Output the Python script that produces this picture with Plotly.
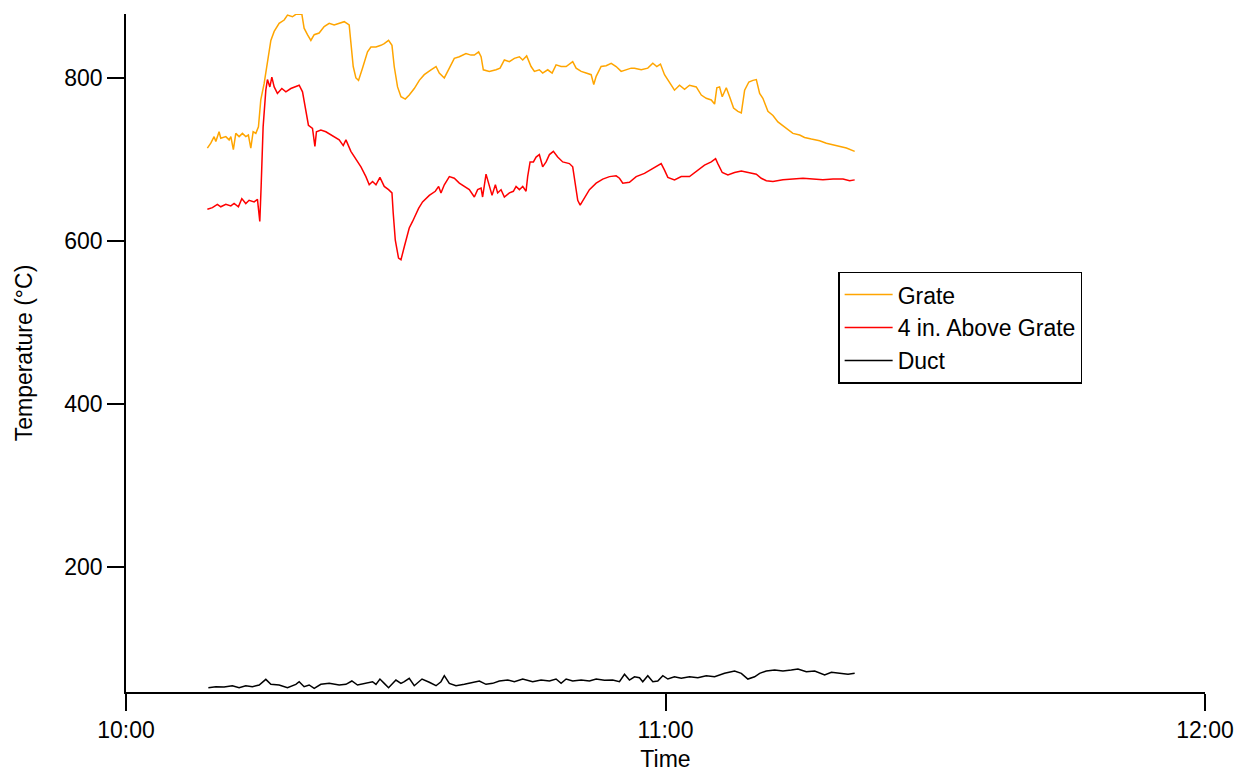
import plotly.graph_objects as go
import pandas as pd

# minutes after 10:00 and temperatures (°C)
grate_min = [9.05, 9.43, 9.80, 9.99, 10.35, 10.54, 11.10, 11.47, 11.66, 11.94, 12.21, 12.58, 12.95, 13.32, 13.61,
             13.88, 14.14, 14.44, 14.73, 14.99, 15.36, 15.73, 16.11, 16.48, 17.03, 17.59, 17.96, 18.51, 18.89, 19.56,
             19.81, 20.18, 20.56, 20.93, 21.48, 22.04, 22.60, 23.15, 23.71, 24.27, 24.82, 25.01, 25.27, 25.57, 25.86,
             26.30, 26.86, 27.24, 27.80, 28.35, 28.72, 29.20, 29.58, 29.83, 30.20, 30.58, 31.06, 31.50, 32.06, 32.62,
             33.17, 33.92, 34.48, 34.84, 35.40, 35.96, 36.51, 37.07, 37.81, 38.37, 38.74, 39.22, 39.49, 39.74, 40.41,
             41.15, 41.60, 42.08, 42.64, 43.19, 43.75, 44.12, 44.56, 45.05, 45.42, 45.97, 46.34, 46.90, 47.39, 47.83,
             48.39, 48.95, 49.68, 50.06, 50.62, 51.17, 51.73, 52.02, 52.29, 52.84, 53.40, 53.96, 54.51, 55.07, 55.63,
             56.18, 56.55, 57.30, 58.03, 58.59, 59.03, 59.44, 59.89, 60.45, 61.00, 61.56, 62.12, 62.67, 63.42, 63.98,
             64.53, 65.09, 65.46, 65.71, 66.01, 66.31, 66.76, 67.13, 67.57, 68.05, 68.43, 68.80, 69.27, 69.72, 70.10,
             70.47, 70.83, 71.39, 71.95, 72.50, 73.25, 74.17, 74.92, 75.47, 76.22, 77.14, 77.89, 78.63, 79.37, 80.12,
             81.04]
grate_val = [714, 720, 728, 722, 734, 726, 728, 724, 728, 712, 732, 728, 732, 728, 730,
             714, 734, 732, 740, 773, 793, 822, 846, 857, 867, 871, 877, 875, 878, 878,
             861, 853, 846, 853, 855, 863, 867, 865, 867, 869, 865, 846, 814, 800, 797,
             812, 832, 838, 838, 840, 842, 846, 840, 814, 789, 777, 774, 779, 787, 797,
             804, 810, 814, 806, 800, 812, 824, 826, 830, 828, 828, 832, 826, 810, 808,
             810, 812, 822, 820, 824, 826, 822, 827, 814, 808, 810, 806, 810, 806, 816,
             814, 814, 820, 812, 808, 806, 804, 792, 802, 814, 815, 818, 814, 808, 810,
             812, 812, 810, 812, 818, 814, 817, 804, 795, 785, 791, 786, 791, 789, 779,
             775, 773, 768, 788, 789, 777, 788, 777, 763, 759, 757, 785, 795, 797, 798,
             781, 775, 759, 754, 746, 740, 732, 730, 727, 725, 723, 720, 718, 716, 714,
             710]

above_min = [9.05, 9.61, 10.16, 10.54, 11.10, 11.66, 12.02, 12.50, 12.88, 13.32, 13.69, 14.25, 14.62, 14.88, 15.03,
             15.25, 15.55, 15.73, 16.00, 16.22, 16.48, 16.84, 17.33, 17.78, 18.33, 18.89, 19.26, 19.63, 19.93, 20.29,
             20.74, 21.01, 21.18, 21.67, 22.23, 22.79, 23.34, 23.71, 24.16, 24.46, 25.01, 25.57, 26.13, 26.68, 27.05,
             27.42, 27.80, 28.24, 28.72, 29.20, 29.58, 29.72, 29.95, 30.31, 30.58, 30.95, 31.31, 31.50, 31.87, 32.25,
             32.54, 32.98, 33.73, 34.40, 34.77, 35.03, 35.40, 35.96, 36.51, 37.07, 37.63, 38.18, 38.74, 39.11, 39.49,
             39.66, 40.04, 40.41, 40.71, 41.08, 41.33, 41.71, 42.08, 42.64, 43.08, 43.38, 43.75, 44.12, 44.49, 44.67,
             44.94, 45.31, 45.61, 45.97, 46.34, 46.72, 47.09, 47.53, 48.01, 48.57, 49.31, 49.68, 49.95, 50.24, 50.51,
             50.98, 51.54, 52.29, 53.02, 53.77, 54.51, 54.88, 55.25, 55.99, 56.74, 57.66, 58.59, 59.52, 59.89, 60.26,
             61.00, 61.75, 62.67, 63.42, 64.34, 65.09, 65.57, 65.82, 66.31, 66.94, 67.68, 68.43, 69.16, 70.10, 70.65,
             71.21, 71.95, 73.06, 74.17, 75.29, 76.40, 77.51, 78.63, 79.74, 80.48, 81.04]
above_val = [639, 641, 645, 642, 645, 643, 646, 642, 652, 646, 650, 648, 651, 624, 667,
             740, 785, 798, 789, 801, 789, 781, 787, 783, 787, 790, 791, 783, 765, 742,
             738, 716, 734, 736, 734, 730, 727, 724, 717, 724, 710, 701, 691, 679, 669,
             673, 669, 678, 667, 663, 659, 634, 601, 579, 577, 593, 610, 616, 624, 634,
             640, 648, 656, 661, 667, 659, 669, 679, 677, 671, 667, 663, 654, 663, 665,
             654, 682, 669, 656, 669, 659, 663, 654, 659, 661, 667, 663, 667, 661, 679,
             697, 697, 703, 706, 691, 697, 706, 710, 703, 697, 695, 691, 671, 650, 644,
             652, 663, 671, 676, 679, 680, 677, 671, 672, 679, 683, 689, 695, 687, 678,
             675, 679, 679, 685, 693, 697, 701, 695, 684, 681, 684, 686, 684, 682, 677,
             674, 673, 675, 676, 677, 676, 675, 676, 676, 674, 675]

duct_min = [9.16, 9.99, 10.91, 11.83, 12.58, 13.32, 14.06, 14.81, 15.55, 16.11, 17.03, 17.96, 18.89, 19.26, 19.81,
            20.37, 20.93, 21.67, 22.60, 23.71, 24.46, 25.12, 25.75, 26.68, 27.42, 27.80, 28.24, 28.72, 29.20, 30.02,
            30.58, 30.95, 31.50, 32.06, 32.92, 33.73, 34.48, 35.03, 35.40, 35.96, 36.70, 37.63, 38.55, 39.30, 40.04,
            40.78, 41.52, 42.45, 43.19, 44.12, 45.23, 46.16, 47.09, 47.83, 48.39, 48.95, 49.68, 50.62, 51.54, 52.29,
            53.21, 54.13, 54.88, 55.44, 55.99, 56.55, 57.11, 57.47, 58.03, 58.59, 59.14, 59.70, 60.26, 61.00, 61.75,
            62.67, 63.60, 64.53, 65.46, 66.57, 67.68, 68.43, 69.16, 69.91, 70.47, 71.21, 72.14, 73.06, 73.99, 74.73,
            75.66, 76.59, 77.70, 78.45, 79.37, 80.30, 81.04]
duct_val = [52.2, 53.5, 53.1, 54.7, 52.2, 54.7, 53.5, 55.6, 62.5, 56.4, 55.6, 52.2, 56.4, 59.6, 53.5,
            55.6, 51.5, 56.4, 57.6, 55.6, 56.4, 60.5, 55.6, 57.6, 59.6, 56.4, 62.9, 57.6, 52.2, 61.7,
            57.6, 59.6, 63.8, 54.7, 62.9, 58.9, 54.7, 59.6, 67.0, 57.6, 54.7, 56.4, 58.9, 60.5, 56.4,
            57.6, 60.5, 61.7, 59.6, 62.9, 59.6, 61.7, 60.5, 62.9, 57.6, 62.9, 60.5, 61.7, 60.5, 62.9,
            61.3, 61.7, 59.6, 68.7, 61.7, 65.7, 64.5, 59.6, 67.0, 59.6, 60.5, 67.0, 62.9, 65.7, 63.8,
            65.7, 64.5, 67.0, 65.7, 69.9, 72.7, 69.9, 62.9, 65.7, 69.9, 72.7, 73.9, 72.7, 73.9, 75.2,
            71.9, 72.7, 67.8, 71.1, 69.9, 68.7, 69.9]

series_names = ["Grate", "4 in. Above Grate", "Duct"]
x_ticks = ["10:00", "11:00", "12:00"]

base = pd.Timestamp("2000-01-01 10:00:00")
def to_time(mins):
    return base + pd.to_timedelta(mins, unit="min")

FONT = "Liberation Sans, Arial, sans-serif"
fig = go.Figure()
for name, xs, ys, col in [
    (series_names[0], grate_min, grate_val, "#FFA500"),
    (series_names[1], above_min, above_val, "#FF0000"),
    (series_names[2], duct_min, duct_val, "#000000"),
]:
    fig.add_trace(go.Scatter(x=to_time(xs), y=ys, mode="lines", name=name,
                             line=dict(color=col, width=1.5)))

tickvals = [base + pd.Timedelta(hours=i) for i in range(3)]
fig.update_layout(
    width=1238, height=772,
    margin=dict(l=126, r=33, t=14, b=80),
    paper_bgcolor="white", plot_bgcolor="white",
    font=dict(family=FONT, size=23, color="black"),
    showlegend=True,
    legend=dict(x=0.66, y=0.62, xanchor="left", yanchor="top",
                bordercolor="black", borderwidth=1.5, bgcolor="white",
                font=dict(size=23), tracegroupgap=0, itemwidth=48),
    xaxis=dict(type="date", range=[tickvals[0], tickvals[2]],
               tickvals=tickvals, ticktext=x_ticks,
               showgrid=False, zeroline=False, showline=True, linecolor="black", linewidth=1.5,
               ticks="outside", ticklen=17, tickwidth=1.5, tickcolor="black",
               title=dict(text="Time", standoff=18, font=dict(size=23)), automargin=False),
    yaxis=dict(range=[47, 878.4], tickvals=[200, 400, 600, 800],
               showgrid=False, zeroline=False, showline=True, linecolor="black", linewidth=1.5,
               ticks="outside", ticklen=17, tickwidth=1.5, tickcolor="black",
               title=dict(text="Temperature (°C)", standoff=25, font=dict(size=23)), automargin=False),
)
fig.write_html("out.html")
